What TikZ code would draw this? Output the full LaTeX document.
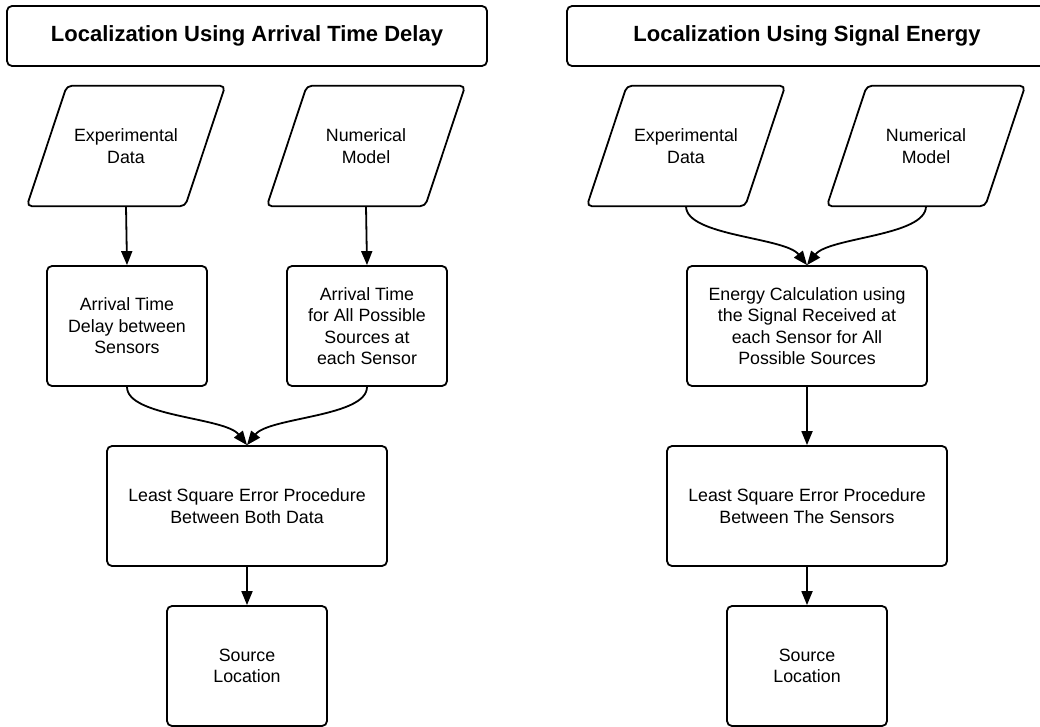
\documentclass[tikz,border=0pt]{standalone}
\usepackage{fontspec}
\setmainfont{Liberation Sans}
\usetikzlibrary{arrows.meta}
\begin{document}
\begin{tikzpicture}[x=1pt,y=-1pt,
  txt/.style={align=center,font=\fontsize{17.8}{21.5}\selectfont,inner sep=0pt},
  box/.style={txt,draw,line width=1.8pt,rounded corners=5pt},
  ttl/.style={box,font=\bfseries\fontsize{22}{26}\selectfont},
  io/.style={txt,minimum width=198pt,minimum height=120pt},
  pg/.style={line width=1.8pt,rounded corners=5pt},
  arr/.style={line width=1.8pt,-{Triangle[length=14pt,width=11pt]}}]
\useasboundingbox (0,0) rectangle (1040,727);
% titles
\node[ttl,minimum width=480pt,minimum height=60pt] (t1) at (247,36) {Localization Using Arrival Time Delay};
\node[box,minimum width=480pt,minimum height=60pt,draw] (t2) at (807,36) {};
\node[font=\bfseries\fontsize{22}{26}\selectfont,inner sep=0pt] (t2t) at (807,36) {Localization Using Signal Energy};
% left inputs
\node[io] (ed1) at (126,146) {Experimental\\Data};
\node[io] (nm1) at (366,146) {Numerical\\Model};
\node[io] (ed2) at (686,146) {Experimental\\Data};
\node[io] (nm2) at (926,146) {Numerical\\Model};
\foreach \n in {ed1,nm1,ed2,nm2}{
  \draw[pg] ([xshift=40pt]\n.north west) -- (\n.north east) -- ([xshift=-40pt]\n.south east) -- (\n.south west) -- cycle;
}
% left column
\node[box,minimum width=160pt,minimum height=120pt] (atd) at (127,326) {Arrival Time\\Delay between\\Sensors};
\node[box,minimum width=160pt,minimum height=120pt] (ata) at (367,326) {Arrival Time\\for All Possible\\Sources at\\each Sensor};
\node[box,minimum width=280pt,minimum height=120pt] (lse1) at (247,506) {Least Square Error Procedure\\Between Both Data};
\node[box,minimum width=160pt,minimum height=120pt] (src1) at (247,666) {Source\\Location};
% right column
\node[box,minimum width=240pt,minimum height=120pt] (en) at (807,326) {Energy Calculation using\\the Signal Received at\\each Sensor for All\\Possible Sources};
\node[box,minimum width=280pt,minimum height=120pt] (lse2) at (807,506) {Least Square Error Procedure\\Between The Sensors};
\node[box,minimum width=160pt,minimum height=120pt] (src2) at (807,666) {Source\\Location};
% connectors
\draw[arr] (ed1.south) -- (atd.north);
\draw[arr] (nm1.south) -- (ata.north);
\draw[arr] (atd.south) .. controls +(0,30) and +(-22,-28) .. (lse1.north);
\draw[arr] (ata.south) .. controls +(0,30) and +(22,-28) .. (lse1.north);
\draw[arr] (lse1.south) -- (src1.north);
\draw[arr] (ed2.south) .. controls +(0,30) and +(-22,-28) .. (en.north);
\draw[arr] (nm2.south) .. controls +(0,30) and +(22,-28) .. (en.north);
\draw[arr] (en.south) -- (lse2.north);
\draw[arr] (lse2.south) -- (src2.north);
\end{tikzpicture}
\end{document}
